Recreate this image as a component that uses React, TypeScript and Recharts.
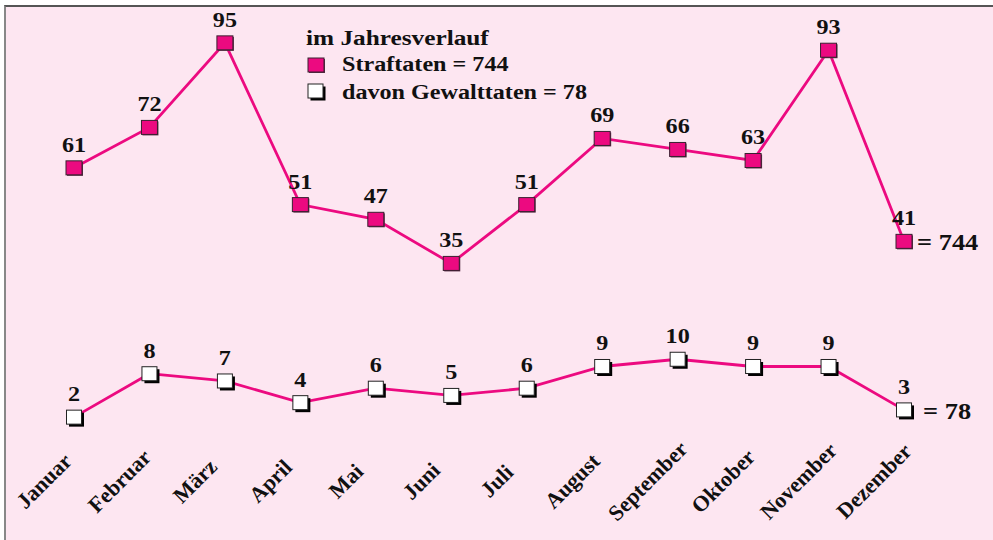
import { LineChart, Line, XAxis, YAxis, LabelList } from "recharts";

const months = [
  "Januar",
  "Februar",
  "März",
  "April",
  "Mai",
  "Juni",
  "Juli",
  "August",
  "September",
  "Oktober",
  "November",
  "Dezember",
];
const straftaten = [61, 72, 95, 51, 47, 35, 51, 69, 66, 63, 93, 41];
const gewalttaten = [2, 8, 7, 4, 6, 5, 6, 9, 10, 9, 9, 3];
const straftatenTotal = 744;
const gewaltTotal = 78;

const data = months.map((m, i) => ({
  month: m,
  straf: straftaten[i],
  gewalt: gewalttaten[i],
}));

const PINK = "#ec0a80";
const BG = "#fde6f1";
const FONT = "'Liberation Serif', 'Times New Roman', serif";
const last = months.length - 1;

function FilledSquare({ cx, cy }: { cx: number; cy: number }) {
  return (
    <g>
      <rect x={cx - 7} y={cy - 6} width={16} height={14} fill="#5a3048" />
      <rect x={cx - 8} y={cy - 7} width={16} height={14} fill={PINK} stroke="#3a2030" strokeWidth={1} />
    </g>
  );
}

function HollowSquare({ cx, cy }: { cx: number; cy: number }) {
  return (
    <g>
      <rect x={cx - 5} y={cy - 4.5} width={15} height={14} fill="#000" />
      <rect x={cx - 7.5} y={cy - 7} width={15} height={14} fill="#fff" stroke="#222" strokeWidth={1} />
    </g>
  );
}

function Txt({ x, y, size, anchor = "middle", children }: any) {
  return (
    <text
      transform={`translate(${x} ${y}) scale(1.15 1)`}
      textAnchor={anchor}
      fontFamily={FONT}
      fontWeight="bold"
      fontSize={size}
      fill="#111"
    >
      {children}
    </text>
  );
}

const makeLabel = (total: number, endDx: number) => (props: any) => {
  const { x, y, value, index } = props;
  return (
    <g>
      <Txt x={x} y={y - 16} size={21}>
        {value}
      </Txt>
      {index === last && (
        <Txt x={x + endDx} y={y + 9} size={23} anchor="start">
          = {total}
        </Txt>
      )}
    </g>
  );
};

function MonthTick({ x, y, payload }: any) {
  const tx = x - 30;
  const ty = y + 41;
  return (
    <text
      x={tx}
      y={ty}
      transform={`rotate(-45 ${tx} ${ty})`}
      textAnchor="middle"
      dominantBaseline="central"
      fontFamily={FONT}
      fontWeight="bold"
      fontSize={22}
      fill="#111"
    >
      {payload.value}
    </text>
  );
}

export default function App() {
  return (
    <div style={{ position: "absolute", left: 0, top: 0, width: 993, height: 540, background: "#fff", overflow: "hidden" }}>
      <div
        style={{
          position: "absolute",
          left: 4,
          top: 5,
          width: 1000,
          height: 540,
          background: BG,
          borderTop: "2px solid #555",
          borderLeft: "2px solid #888",
        }}
      />
      <div style={{ position: "absolute", left: 0, top: 0 }}>
        <LineChart width={993} height={540} data={data} margin={{ top: 20, right: 89, bottom: 0, left: 74 }}>
          <XAxis
            dataKey="month"
            height={100}
            axisLine={false}
            tickLine={false}
            tickSize={0}
            tickMargin={0}
            interval={0}
            tick={<MonthTick />}
          />
          <YAxis yAxisId="a" hide width={0} type="number" domain={[-13.04, 101.22]} allowDataOverflow />
          <YAxis yAxisId="b" hide width={0} type="number" domain={[-1.16, 56.89]} allowDataOverflow />
          <Line
            yAxisId="a"
            dataKey="straf"
            stroke={PINK}
            strokeWidth={2.8}
            isAnimationActive={false}
            dot={(p: any) => <FilledSquare key={`a${p.index}`} cx={p.cx} cy={p.cy} />}
            activeDot={false}
          >
            <LabelList dataKey="straf" content={makeLabel(straftatenTotal, 13)} />
          </Line>
          <Line
            yAxisId="b"
            dataKey="gewalt"
            stroke={PINK}
            strokeWidth={2.8}
            isAnimationActive={false}
            dot={(p: any) => <HollowSquare key={`b${p.index}`} cx={p.cx} cy={p.cy} />}
            activeDot={false}
          >
            <LabelList dataKey="gewalt" content={makeLabel(gewaltTotal, 19)} />
          </Line>
        </LineChart>
      </div>
      <svg width={993} height={120} style={{ position: "absolute", left: 0, top: 0, pointerEvents: "none" }}>
        <Txt x={306} y={45} size={22} anchor="start">
          im Jahresverlauf
        </Txt>
        <FilledSquare cx={316} cy={65} />
        <Txt x={342} y={71} size={21} anchor="start">
          Straftaten = {straftatenTotal}
        </Txt>
        <HollowSquare cx={315.5} cy={91} />
        <Txt x={342} y={99} size={21} anchor="start">
          davon Gewalttaten = {gewaltTotal}
        </Txt>
      </svg>
    </div>
  );
}
